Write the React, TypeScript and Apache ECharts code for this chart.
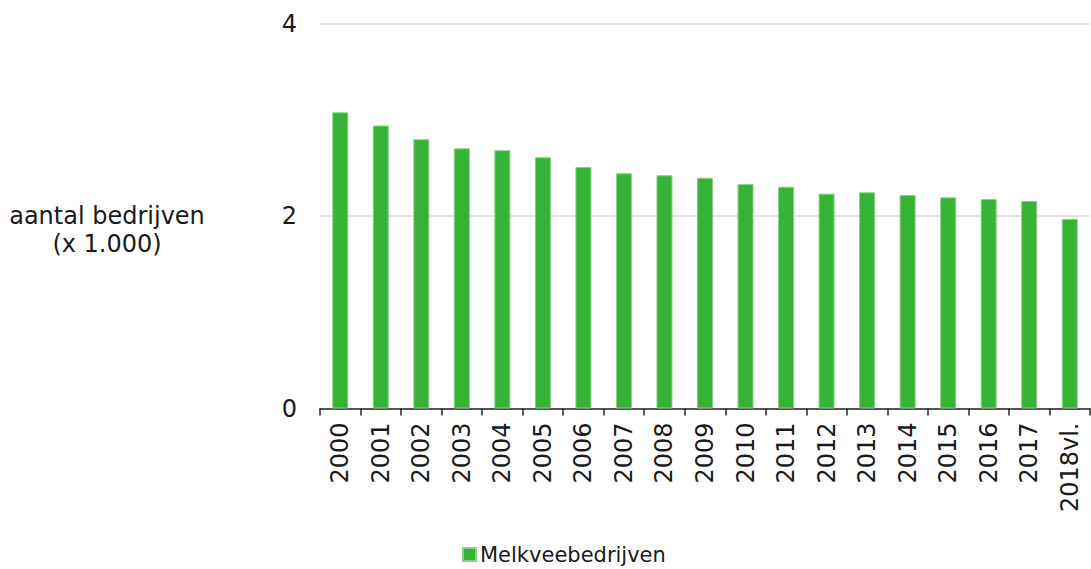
import React, { useEffect, useRef } from "react";
import * as echarts from "echarts";

const categories = ["2000","2001","2002","2003","2004","2005","2006","2007","2008","2009","2010","2011","2012","2013","2014","2015","2016","2017","2018vl."];
const melkvee = [3.077,2.94,2.797,2.703,2.683,2.61,2.509,2.444,2.423,2.397,2.332,2.304,2.232,2.246,2.218,2.194,2.177,2.156,1.969];
const seriesName = "Melkveebedrijven";
const yTitle = "aantal bedrijven\n(x 1.000)";

const FONT = "'DejaVu Sans', Verdana, sans-serif";

export default function App() {
  const ref = useRef<HTMLDivElement>(null);
  useEffect(() => {
    if (!ref.current) return;
    const chart = echarts.init(ref.current, null, { renderer: "svg" });
    chart.setOption({
      animation: false,
      textStyle: { fontFamily: FONT },
      grid: { left: 320, right: 1, top: 23.5, bottom: 160.5, containLabel: false },
      legend: {
        data: [seriesName],
        top: 544,
        left: 462,
        padding: 0,
        itemWidth: 13,
        itemHeight: 13,
        itemGap: 4,
        icon: "rect",
        textStyle: { fontFamily: FONT, fontSize: 21, color: "#1a1a1a", padding: [0, 0, 0, -1] },
      },
      graphic: [
        {
          type: "text",
          left: 8,
          top: 202,
          style: {
            text: yTitle,
            font: `24px ${FONT}`,
            fill: "#1a1a1a",
            textAlign: "center",
            lineHeight: 28,
            width: 198,
          },
        },
      ],
      xAxis: {
        type: "category",
        data: categories,
        axisLine: { lineStyle: { color: "#262626", width: 1.5 } },
        axisTick: { show: true, length: 7, lineStyle: { color: "#262626", width: 1.5 } },
        axisLabel: { rotate: 90, margin: 14, fontSize: 24, color: "#1a1a1a", fontFamily: FONT },
      },
      yAxis: {
        type: "value",
        min: 0,
        max: 4,
        interval: 2,
        axisLine: { show: false },
        axisTick: { show: false },
        axisLabel: { fontSize: 24, color: "#1a1a1a", margin: 23, fontFamily: FONT },
        splitLine: { lineStyle: { color: "#d9d9d9", width: 1.5 } },
      },
      series: [
        {
          name: seriesName,
          type: "bar",
          data: melkvee,
          barWidth: 16,
          itemStyle: { color: "#36B336", borderColor: "#85d185", borderWidth: 1 },
        },
      ],
    });
    return () => chart.dispose();
  }, []);
  return <div ref={ref} style={{ width: 1091, height: 569, position: "absolute", left: 0, top: 0 }} />;
}
